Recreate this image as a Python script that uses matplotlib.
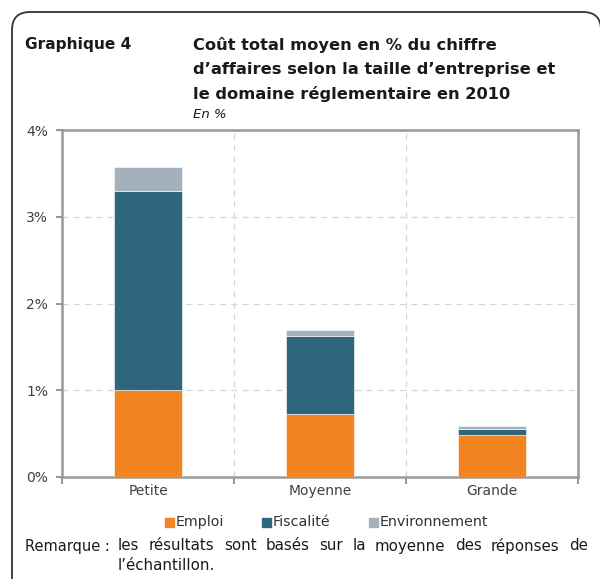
import matplotlib
matplotlib.use("Agg")
import matplotlib.pyplot as plt
from matplotlib.patches import FancyBboxPatch, Rectangle
from matplotlib.ticker import FixedLocator

categories = ["Petite", "Moyenne", "Grande"]
emploi = [1.00, 0.73, 0.48]
fiscalite = [2.30, 0.89, 0.07]
environnement = [0.27, 0.08, 0.04]
series_names = ["Emploi", "Fiscalité", "Environnement"]
colors = ["#F28522", "#2E677B", "#A5B0BD"]
y_ticks = [0, 1, 2, 3, 4]
y_labels = ["0%", "1%", "2%", "3%", "4%"]

W, H = 600, 579
plt.rcParams["font.family"] = ["DejaVu Sans"]

fig = plt.figure(figsize=(W / 100, H / 100), dpi=100)


def px(x, y):
    return x / W, 1 - y / H


# rounded frame around the whole chart (right and bottom edges run off the page)
fig.patches.append(FancyBboxPatch((12 / W, -0.05), (601 - 12) / W, 1 - 12 / H + 0.05,
                                  boxstyle="round,pad=0,rounding_size=0.03",
                                  transform=fig.transFigure, fill=False,
                                  ec="#333333", lw=1.3, mutation_aspect=W / H))

fig.text(*px(25, 45), "Graphique 4", fontsize=11.1, fontweight="bold",
         va="center", color="#1a1a1a")
for i, line in enumerate(["Coût total moyen en % du chiffre",
                          "d’affaires selon la taille d’entreprise et",
                          "le domaine réglementaire en 2010"]):
    fig.text(*px(193, 45 + 24.5 * i), line, fontsize=11.7, fontweight="bold",
             va="center", color="#1a1a1a")
fig.text(*px(193, 114), "En %", fontsize=9.5, style="italic", va="center",
         color="#1a1a1a")

ax = fig.add_axes([62 / W, 1 - 477 / H, 516 / W, 347 / H])
x = range(len(categories))
bottom2 = [a + b for a, b in zip(emploi, fiscalite)]
ax.bar(x, emploi, width=0.4, color=colors[0], edgecolor="white", lw=0.4, zorder=3)
ax.bar(x, fiscalite, width=0.4, bottom=emploi, color=colors[1],
       edgecolor="white", lw=0.4, zorder=3)
ax.bar(x, environnement, width=0.4, bottom=bottom2, color=colors[2],
       edgecolor="white", lw=0.4, zorder=3)

ax.set_xlim(-0.5, 2.5)
ax.set_ylim(0, 4)
ax.set_yticks(y_ticks)
ax.set_yticklabels(y_labels)
ax.set_xticks(list(x))
ax.set_xticklabels(categories)
ax.xaxis.set_minor_locator(FixedLocator([-0.5, 0.5, 1.5, 2.5]))
ax.tick_params(axis="x", which="major", length=0, pad=5, labelsize=10,
               labelcolor="#404040")
ax.tick_params(axis="x", which="minor", length=5, width=1.5, color="#999999")
ax.tick_params(axis="y", length=4, width=1.5, color="#999999", labelsize=10,
               labelcolor="#404040", pad=6)
for s in ax.spines.values():
    s.set_color("#999999")
    s.set_linewidth(1.8)
for yv in [1, 2, 3]:
    ax.axhline(yv, color="#d6d6d6", ls=(0, (5, 4)), lw=0.9, zorder=1)
for xv in [0.5, 1.5]:
    ax.axvline(xv, color="#d6d6d6", ls=(0, (5, 4)), lw=0.9, zorder=1)

# legend
leg_items = [(165, series_names[0]), (262, series_names[1]), (369, series_names[2])]
for (lx, name), c in zip(leg_items, colors):
    fig.patches.append(Rectangle(px(lx, 527), 9 / W, 9 / H, transform=fig.transFigure,
                                 color=c))
    fig.text(*px(lx + 11, 522), name, fontsize=10.3, va="center", color="#333333")

# justified remark
fig.text(*px(25, 546), "Remarque :", fontsize=10.5, va="center", color="#1a1a1a")
words = "les résultats sont basés sur la moyenne des réponses de".split()
fig.canvas.draw()
renderer = fig.canvas.get_renderer()
objs = [fig.text(0, 0, w, fontsize=10.8, va="center", color="#1a1a1a") for w in words]
widths = [o.get_window_extent(renderer).width for o in objs]
x0, x1 = 118, 588
gap = (x1 - x0 - sum(widths)) / (len(words) - 1)
cur = x0
for o, wd in zip(objs, widths):
    o.set_position(px(cur, 546))
    cur += wd + gap
fig.text(*px(118, 566), "l’échantillon.", fontsize=10.8, va="center", color="#1a1a1a")

fig.savefig("out.png", dpi=100)
